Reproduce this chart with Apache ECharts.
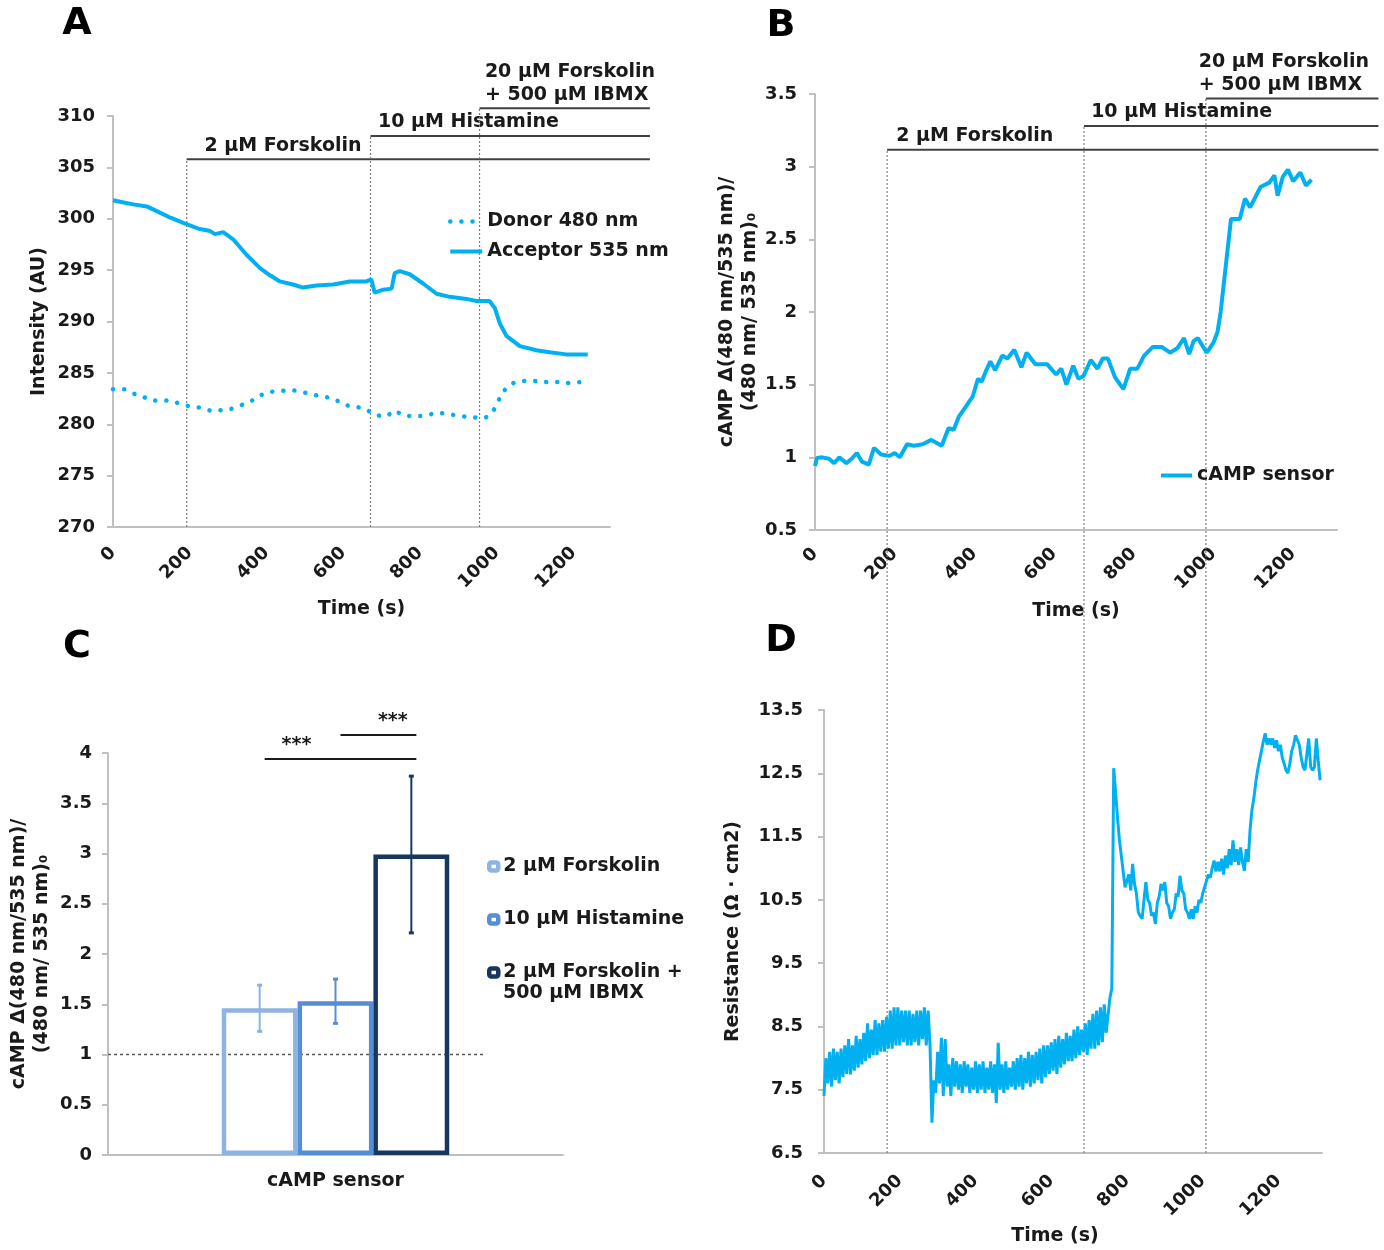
<!DOCTYPE html>
<html lang="en">
<head>
<meta charset="UTF-8">
<title>cAMP sensor and resistance</title>
<script src="https://cdn.jsdelivr.net/npm/echarts@6/dist/echarts.min.js"></script>
<style>
    *{padding:0;margin:0;}
    html,body{width:1384px;height:1250px;background:#fff;}
    #main{width:1384px;height:1250px;}
</style>
</head>
<body>
<div id="main"></div>
<script>
// ---- A: FRET channel intensities (AU) against time (s)
var donT = [0,27,53,83,114,144,175,205,231,261,287,318,348,374,400,431,459,487,517,548,578,604,634,660,686,712,732,756,782,812,843,873,903,934,962,986,1003,1016,1038,1068,1099,1129,1159,1190,1220,1235];
var donV = [283.4,283.4,283.0,282.6,282.3,282.3,282.0,281.7,281.6,281.3,281.4,281.6,282.1,282.5,283.1,283.2,283.3,283.2,282.9,282.7,282.4,281.9,281.7,281.4,280.9,280.8,281.3,280.9,280.8,280.8,281.1,281.0,280.8,280.7,280.6,281.1,282.2,283.1,283.9,284.2,284.2,284.1,284.1,284.0,284.1,284.1];
var accT = [0,25,53,88,122,150,183,226,253,266,287,313,348,383,409,435,469,495,530,574,617,660,673,682,704,726,734,747,773,808,843,877,921,947,981,995,1008,1025,1060,1103,1138,1181,1237];
var accV = [301.8,301.6,301.4,301.2,300.6,300.1,299.6,299.0,298.8,298.5,298.7,298.0,296.5,295.2,294.5,293.9,293.6,293.3,293.5,293.6,293.9,293.9,294.1,292.8,293.1,293.2,294.7,294.9,294.6,293.7,292.7,292.4,292.2,292.0,292.0,291.3,289.8,288.6,287.6,287.2,287.0,286.8,286.8];

// ---- B: cAMP sensor ratio
var campT = [0,5,18,35,48,61,79,92,105,118,135,148,166,187,200,213,231,248,270,292,318,335,348,361,379,396,409,418,430,440,452,470,483,500,518,531,553,583,605,618,631,648,661,674,692,709,722,735,753,774,791,809,826,848,870,891,909,926,939,950,961,983,1000,1010,1018,1031,1044,1066,1079,1092,1118,1140,1153,1161,1174,1187,1200,1218,1232,1246];
var campV = [0.94,0.995,1.0,0.99,0.96,1.0,0.96,0.99,1.03,0.97,0.95,1.065,1.02,1.01,1.03,1.0,1.09,1.08,1.09,1.12,1.08,1.20,1.19,1.28,1.35,1.42,1.54,1.52,1.60,1.66,1.60,1.70,1.68,1.74,1.62,1.72,1.64,1.64,1.57,1.61,1.50,1.63,1.54,1.56,1.67,1.61,1.68,1.68,1.55,1.47,1.61,1.61,1.70,1.76,1.76,1.72,1.75,1.82,1.71,1.80,1.82,1.72,1.79,1.86,2.0,2.32,2.64,2.64,2.78,2.72,2.86,2.89,2.94,2.80,2.93,2.98,2.90,2.96,2.87,2.91];

// ---- C: mean ratio per treatment, with error
var barNames = ['2 µM Forskolin', '10 µM Histamine', '2 µM Forskolin + 500 µM IBMX'];
var barMean = [1.46, 1.53, 2.99];
var barErr = [0.23, 0.22, 0.78];
var barColors = ['#8db3e2', '#558ed5', '#17375e'];

// ---- D: resistance, one reading every 5 s
var resStep = 5;
var resV = [
    7.40,8.00,7.60,8.10,7.55,8.15,7.65,8.10,7.60,8.15,
    7.70,8.20,7.75,8.30,7.74,8.20,7.80,8.35,7.85,8.30,
    7.90,8.40,7.95,8.55,8.00,8.45,8.05,8.60,8.05,8.55,
    8.10,8.60,8.10,8.65,8.15,8.75,8.15,8.80,8.20,8.80,
    8.20,8.75,8.25,8.75,8.20,8.75,8.20,8.70,8.25,8.75,
    8.20,8.75,8.30,8.80,8.20,8.75,8.20,6.98,7.65,7.45,
    8.10,7.60,8.32,7.40,8.30,7.55,7.90,7.40,8.00,7.55,
    7.95,7.50,7.90,7.45,7.95,7.55,7.90,7.45,7.85,7.50,
    7.95,7.45,7.90,7.50,7.95,7.45,7.85,7.50,7.95,7.45,
    7.90,7.29,8.24,7.50,7.90,7.45,7.95,7.50,7.85,7.55,
    7.95,7.50,8.00,7.55,8.05,7.50,8.00,7.60,8.10,7.55,
    8.05,7.60,8.10,7.65,8.15,7.60,8.20,7.70,8.20,7.75,
    8.25,7.80,8.30,7.75,8.35,7.85,8.30,7.90,8.40,7.95,
    8.35,7.95,8.45,8.00,8.50,8.05,8.45,8.10,8.55,8.05,
    8.60,8.15,8.70,8.15,8.75,8.20,8.80,8.25,8.85,8.40,
    8.40,8.95,9.10,12.58,12.20,11.80,11.45,11.20,10.95,10.70,
    10.70,10.90,10.65,11.07,10.75,10.60,10.30,10.25,10.20,10.50,
    10.78,10.50,10.45,10.25,10.30,10.12,10.45,10.55,10.75,10.65,
    10.78,10.45,10.40,10.20,10.30,10.35,10.60,10.55,10.88,10.65,
    10.60,10.35,10.30,10.20,10.35,10.20,10.40,10.30,10.50,10.45,
    10.60,10.70,10.80,10.90,10.85,11.00,11.12,10.95,11.10,10.95,
    11.15,10.90,11.20,11.00,11.30,11.05,11.44,11.10,11.30,11.05,
    11.33,11.10,10.96,11.30,11.10,11.60,11.92,12.10,12.35,12.55,
    12.70,12.85,13.00,13.13,12.95,13.05,12.95,13.05,12.90,13.02,
    12.85,12.95,12.75,12.65,12.55,12.50,12.65,12.85,12.95,13.10,
    13.13,12.95,12.75,12.60,12.55,12.80,13.05,12.60,12.55,12.60,
    13.05,12.70,12.39
];

// treatments (start times, s) and tick labels
var treatLabels = ['2 µM Forskolin', '10 µM Histamine', '20 µM Forskolin\n+ 500 µM IBMX'];
var treatA = [192, 671, 955];
var treatB = [181, 675, 981];
var timeTicks = [0, 200, 400, 600, 800, 1000, 1200];
var resTicks = [6.5, 7.5, 8.5, 9.5, 10.5, 11.5, 12.5, 13.5];

var FONT = 'DejaVu Sans';
var INK = '#1a1a1a';
var BLUE = '#00b0f0';
var AXC = '#c0c0c0';

function pairs(t, v) {
    return t.map(function (x, i) { return [x, v[i]]; });
}
var resData = resV.map(function (v, i) { return [i * resStep, v]; });

function txt(size) {
    return {fontSize: size, fontWeight: 'bold', fontFamily: FONT, color: INK};
}

function timeAxis(grid, max, gap, margin) {
    return {
        type: 'value', gridIndex: grid, min: 0, max: max,
        name: 'Time (s)', nameLocation: 'middle', nameGap: gap,
        nameTextStyle: txt(19),
        axisLine: {show: true, lineStyle: {color: AXC, width: 2}},
        axisTick: {show: false},
        splitLine: {show: false},
        axisLabel: Object.assign({
            rotate: 45, margin: margin, customValues: timeTicks,
            formatter: function (v) { return String(v); }
        }, txt(18))
    };
}

function valAxis(grid, min, max, interval, name, gap, margin) {
    return {
        type: 'value', gridIndex: grid, min: min, max: max, interval: interval,
        name: name, nameLocation: 'middle', nameGap: gap,
        nameTextStyle: Object.assign({lineHeight: 23}, txt(19)),
        axisLine: {show: true, lineStyle: {color: AXC, width: 2}},
        axisTick: {show: true, length: 6, lineStyle: {color: AXC, width: 2}},
        splitLine: {show: false},
        axisLabel: Object.assign({margin: margin}, txt(18))
    };
}

// treatment bars with dotted start lines, drawn through the panel's own scales
function treatRender(cfg) {
    return function (params, api) {
        var i = params.dataIndex;
        var t = api.value(0);
        var lv = cfg.levels[i];
        var p0 = api.coord([t, cfg.base]);
        var p1 = api.coord([t, lv]);
        var p2 = api.coord([cfg.end, lv]);
        var tx = api.coord([cfg.textX[i], lv]);
        return {
            type: 'group',
            children: [
                {type: 'line', shape: {x1: p0[0], y1: p0[1], x2: p1[0], y2: p1[1]},
                    style: {stroke: '#7f7f7f', lineWidth: 1.2, lineDash: [2, 2]}},
                {type: 'line', shape: {x1: p1[0], y1: p1[1], x2: p2[0], y2: p2[1]},
                    style: {stroke: '#404040', lineWidth: 2}},
                {type: 'text', x: tx[0], y: tx[1] - 2,
                    style: {text: treatLabels[i], align: cfg.align[i], verticalAlign: 'bottom',
                        font: 'bold 19px "DejaVu Sans"', fill: INK, lineHeight: 23}}
            ]
        };
    };
}

var sigPairs = [[0, 2], [1, 2]];
var sigLevel = [3.94, 4.18];
var sigTextAt = [0.21, 0.69];

var myChart = echarts.init(document.getElementById('main'));

var option = {
    animation: false,
    grid: [
        {left: 113, top: 116, width: 497, height: 411},
        {left: 815, top: 94, width: 522, height: 436},
        {left: 108, top: 753, width: 455, height: 402},
        {left: 824, top: 710, width: 498, height: 443},
        {left: 815, top: 94, width: 522, height: 1059}
    ],
    xAxis: [
        timeAxis(0, 1295, 73, 23),
        timeAxis(1, 1310, 72, 21),
        {
            type: 'category', gridIndex: 2, data: ['cAMP sensor'],
            axisLine: {show: true, lineStyle: {color: AXC, width: 2}},
            axisTick: {show: false},
            axisLabel: Object.assign({margin: 17}, txt(19))
        },
        Object.assign(timeAxis(3, 1315, 74, 25), {nameTextStyle: Object.assign({padding: [0, 36, 0, 0]}, txt(19))}),
        {type: 'value', gridIndex: 4, min: 0, max: 1310, show: false}
    ],
    yAxis: [
        valAxis(0, 270, 310, 5, 'Intensity (AU)', 62, 18),
        valAxis(1, 0.5, 3.5, 0.5, 'cAMP Δ(480 nm/535 nm)/\n(480 nm/ 535 nm)₀', 53, 18),
        valAxis(2, 0, 4, 0.5, 'cAMP Δ(480 nm/535 nm)/\n(480 nm/ 535 nm)₀', 54, 16),
        (function () {
            var a = valAxis(3, 6.5, 13.5, null, 'Resistance (Ω · cm2)', 79, 21);
            delete a.interval;
            a.axisLabel.customValues = resTicks;
            a.axisTick.customValues = resTicks;
            return a;
        })(),
        {type: 'value', gridIndex: 4, min: 0, max: 1, show: false}
    ],
    legend: [
        {
            data: [
                {name: 'Donor 480 nm', lineStyle: {color: BLUE, width: 4.5, type: [0.1, 11], cap: 'round'}},
                {name: 'Acceptor 535 nm', lineStyle: {color: BLUE, width: 4}}
            ],
            orient: 'vertical', left: 443, top: 207, itemWidth: 32, itemHeight: 12, itemGap: 11,
            selectedMode: false, textStyle: txt(19), itemStyle: {opacity: 0}
        },
        {
            data: [{name: 'cAMP sensor', lineStyle: {color: BLUE, width: 4}}],
            left: 1154, top: 461, itemWidth: 31, itemHeight: 12,
            selectedMode: false, textStyle: txt(19), itemStyle: {opacity: 0}
        },
        {
            data: barNames.map(function (n, i) {
                return {name: n, itemStyle: {color: '#fff', borderColor: barColors[i], borderWidth: 4.5}};
            }),
            orient: 'vertical', left: 482, top: 852, itemWidth: 9, itemHeight: 8, itemGap: 34,
            selectedMode: false, textStyle: txt(19),
            formatter: function (n) { return n === barNames[2] ? '2 µM Forskolin +' : n; }
        }
    ],
    graphic: [
        {type: 'text', x: 77, y: 24, style: {text: 'A', font: 'bold 38px "DejaVu Sans"', fill: '#000', align: 'center', verticalAlign: 'middle'}},
        {type: 'text', x: 781, y: 26, style: {text: 'B', font: 'bold 38px "DejaVu Sans"', fill: '#000', align: 'center', verticalAlign: 'middle'}},
        {type: 'text', x: 77, y: 647, style: {text: 'C', font: 'bold 38px "DejaVu Sans"', fill: '#000', align: 'center', verticalAlign: 'middle'}},
        {type: 'text', x: 781, y: 641, style: {text: 'D', font: 'bold 38px "DejaVu Sans"', fill: '#000', align: 'center', verticalAlign: 'middle'}},
        {type: 'text', x: 503, y: 993, style: {text: '500 µM IBMX', font: 'bold 19px "DejaVu Sans"', fill: INK, align: 'left', verticalAlign: 'middle'}}
    ],
    series: [
        {
            name: 'Donor 480 nm', type: 'line', xAxisIndex: 0, yAxisIndex: 0,
            data: pairs(donT, donV), symbol: 'none', smooth: 0.4,
            lineStyle: {color: BLUE, width: 4.5, type: [0.1, 11], cap: 'round'},
            itemStyle: {color: BLUE}
        },
        {
            name: 'Acceptor 535 nm', type: 'line', xAxisIndex: 0, yAxisIndex: 0,
            data: pairs(accT, accV), symbol: 'none',
            lineStyle: {color: BLUE, width: 4}, itemStyle: {color: BLUE}
        },
        {
            type: 'custom', xAxisIndex: 0, yAxisIndex: 0, clip: false, silent: true,
            data: treatA.map(function (t) { return [t]; }),
            renderItem: treatRender({base: 270, end: 1399, levels: [305.8, 308.05, 310.75],
                textX: [443, 926, 969], align: ['center', 'center', 'left']})
        },
        {
            name: 'cAMP sensor', type: 'line', xAxisIndex: 1, yAxisIndex: 1,
            data: pairs(campT, campV), symbol: 'none',
            lineStyle: {color: BLUE, width: 4}, itemStyle: {color: BLUE}
        },
        {
            type: 'custom', xAxisIndex: 4, yAxisIndex: 4, clip: false, silent: true,
            data: treatB.map(function (t) { return [t]; }),
            renderItem: treatRender({base: 0, end: 1414, levels: [0.9474, 0.9698, 0.9957],
                textX: [401, 920, 963], align: ['center', 'center', 'left']})
        }
    ].concat(barNames.map(function (n, i) {
        return {
            name: n, type: 'bar', xAxisIndex: 2, yAxisIndex: 2,
            data: [barMean[i]], barGap: '0%', barCategoryGap: '50%',
            itemStyle: {color: 'rgba(255,255,255,0)', borderColor: barColors[i], borderWidth: 4.5}
        };
    })).concat([
        {
            // error bars
            type: 'custom', xAxisIndex: 2, yAxisIndex: 2, clip: false, silent: true,
            data: barMean.map(function (m, i) { return [0, m, barErr[i]]; }),
            renderItem: function (params, api) {
                var i = params.dataIndex;
                var bw = api.size([1, 0])[0] * 0.5 / barNames.length;
                var x = api.coord([0, 0])[0] + (i - 1) * bw;
                var m = api.value(1), e = api.value(2);
                var yt = api.coord([0, m + e])[1], yb = api.coord([0, m - e])[1];
                var st = {stroke: barColors[i], lineWidth: 2};
                return {type: 'group', children: [
                    {type: 'line', shape: {x1: x, y1: yt, x2: x, y2: yb}, style: st},
                    {type: 'line', shape: {x1: x - 2.5, y1: yt, x2: x + 2.5, y2: yt}, style: {stroke: barColors[i], lineWidth: 3}},
                    {type: 'line', shape: {x1: x - 2.5, y1: yb, x2: x + 2.5, y2: yb}, style: {stroke: barColors[i], lineWidth: 3}}
                ]};
            }
        },
        {
            // baseline at 1 and significance brackets
            type: 'custom', xAxisIndex: 2, yAxisIndex: 2, clip: false, silent: true,
            data: [[0, 1]],
            renderItem: function (params, api) {
                var band = api.size([1, 0])[0];
                var bw = band * 0.5 / barNames.length;
                var c = api.coord([0, api.value(1)]);
                var kids = [{type: 'line', shape: {x1: c[0] - band / 2, y1: c[1], x2: c[0] + band * 0.328, y2: c[1]},
                    style: {stroke: '#595959', lineWidth: 1.5, lineDash: [3, 3]}}];
                sigPairs.forEach(function (p, k) {
                    var y = api.coord([0, sigLevel[k]])[1];
                    var xa = c[0] + (p[0] - 1) * bw + 5, xb = c[0] + (p[1] - 1) * bw + 5;
                    kids.push({type: 'line', shape: {x1: xa, y1: y, x2: xb, y2: y}, style: {stroke: '#1a1a1a', lineWidth: 2}});
                    kids.push({type: 'text', x: xa + (xb - xa) * sigTextAt[k], y: y - 4,
                        style: {text: '***', align: 'center', verticalAlign: 'bottom',
                            font: 'bold 19px "DejaVu Sans"', fill: INK}});
                });
                return {type: 'group', children: kids};
            }
        },
        {
            name: 'Resistance', type: 'line', xAxisIndex: 3, yAxisIndex: 3,
            data: resData, symbol: 'none',
            lineStyle: {color: BLUE, width: 3}, itemStyle: {color: BLUE}
        }
    ])
};
myChart.setOption(option);
</script>
</body>
</html>
